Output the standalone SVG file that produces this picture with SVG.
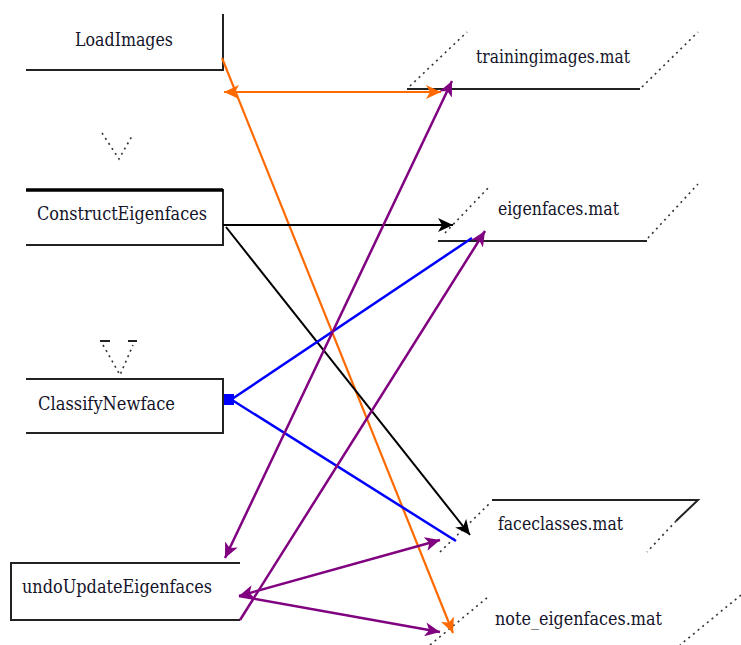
<svg xmlns="http://www.w3.org/2000/svg" width="741" height="645" viewBox="0 0 741 645">
<style>
  text { font-family: "DejaVu Serif", "Liberation Serif", serif; font-size: 19px; fill: #14142a; }
  .box { fill: none; stroke: #222; stroke-width: 2; }
  .store { fill: none; stroke: #222; stroke-width: 2; }
  .dots { fill: none; stroke: #333; stroke-width: 1.6; stroke-dasharray: 2 4; }
  .orange { stroke: #ff6a00; stroke-width: 2.2; fill: none; }
  .black { stroke: #000; stroke-width: 2; fill: none; }
  .blue { stroke: #0000ff; stroke-width: 2.5; fill: none; }
  .purple { stroke: #800080; stroke-width: 2.5; fill: none; }
</style>
<defs>
  <marker id="aO" markerUnits="userSpaceOnUse" markerWidth="15" markerHeight="14" refX="15" refY="7" orient="auto-start-reverse"><path d="M0,0 L15,7 L0,14 L4,7 z" fill="#ff6a00"/></marker>
  <marker id="aK" markerUnits="userSpaceOnUse" markerWidth="15" markerHeight="14" refX="15" refY="7" orient="auto-start-reverse"><path d="M0,0 L15,7 L0,14 L4,7 z" fill="#000"/></marker>
  <marker id="aP" markerUnits="userSpaceOnUse" markerWidth="15" markerHeight="14" refX="15" refY="7" orient="auto-start-reverse"><path d="M0,0 L15,7 L0,14 L4,7 z" fill="#800080"/></marker>
</defs>
<rect width="741" height="645" fill="#fff"/>

<g id="LoadImages">
  <path class="box" d="M223,14 V70 H26"/>
  <text x="75" y="46" textLength="98" lengthAdjust="spacingAndGlyphs">LoadImages</text>
</g>
<g id="ConstructEigenfaces">
  <path class="box" d="M26,190 H223 V245 H26" />
  <path d="M26,190 H223" stroke="#000" stroke-width="3.5"/>
  <text x="37" y="220" textLength="170" lengthAdjust="spacingAndGlyphs">ConstructEigenfaces</text>
</g>
<g id="ClassifyNewface">
  <path class="box" d="M26,379 H223 V433 H26"/>
  <text x="38" y="410" textLength="137" lengthAdjust="spacingAndGlyphs">ClassifyNewface</text>
  <rect x="224" y="394" width="10" height="11" fill="#0000ff"/>
</g>
<g id="undoUpdateEigenfaces">
  <path class="box" d="M240,563 H11 V620 H240"/>
  <text x="22" y="593" textLength="190" lengthAdjust="spacingAndGlyphs">undoUpdateEigenfaces</text>
</g>

<g id="flow1">
  <path class="dots" d="M102,133 L119,159 L132,136"/>
</g>
<g id="flow2">
  <path d="M100,341 H110 M128,341 H137" stroke="#222" stroke-width="2"/>
  <path class="dots" d="M103,345 L120,375 L133,345"/>
</g>

<g id="trainingimages">
  <path class="store" d="M407,89 H640"/>
  <path class="dots" d="M410,86 L467,32 M642,87 L698,32"/>
  <text x="476" y="63" textLength="154" lengthAdjust="spacingAndGlyphs">trainingimages.mat</text>
</g>
<g id="eigenfaces">
  <path class="store" d="M438,241 H647"/>
  <path class="dots" d="M445,233 L490,186 M648,238 L698,184"/>
  <text x="498" y="215" textLength="121" lengthAdjust="spacingAndGlyphs">eigenfaces.mat</text>
</g>
<g id="faceclasses">
  <path class="store" d="M492,500 H698 L676,521"/>
  <path class="dots" d="M440,552 L490,503 M676,521 L647,552"/>
  <text x="498" y="530" textLength="125" lengthAdjust="spacingAndGlyphs">faceclasses.mat</text>
</g>
<g id="note_eigenfaces">
  <path class="dots" d="M430,645 L488,597 M741,595 L680,645"/>
  <text x="495" y="625" textLength="167" lengthAdjust="spacingAndGlyphs">note_eigenfaces.mat</text>
</g>

<g id="connectors">
  <path class="orange" d="M224,92 H441" marker-start="url(#aO)" marker-end="url(#aO)"/>
  <path class="orange" d="M222,58 L453,633" marker-end="url(#aO)"/>
  <path class="black" d="M223,225 H453" stroke-width="3.5" marker-end="url(#aK)"/>
  <path class="black" d="M226,227 L470,535" marker-end="url(#aK)"/>
  <path class="blue" d="M232,399 L472,238"/>
  <path class="blue" d="M232,400 L456,541"/>
  <path class="purple" d="M225,558 L452,81" marker-start="url(#aP)" marker-end="url(#aP)"/>
  <path class="purple" d="M240,620 L485,231" stroke-width="2" marker-end="url(#aP)"/>
  <path class="purple" d="M239,596 L440,540" marker-start="url(#aP)" marker-end="url(#aP)"/>
  <path class="purple" d="M239,596 L440,632" marker-end="url(#aP)"/>
</g>
</svg>
